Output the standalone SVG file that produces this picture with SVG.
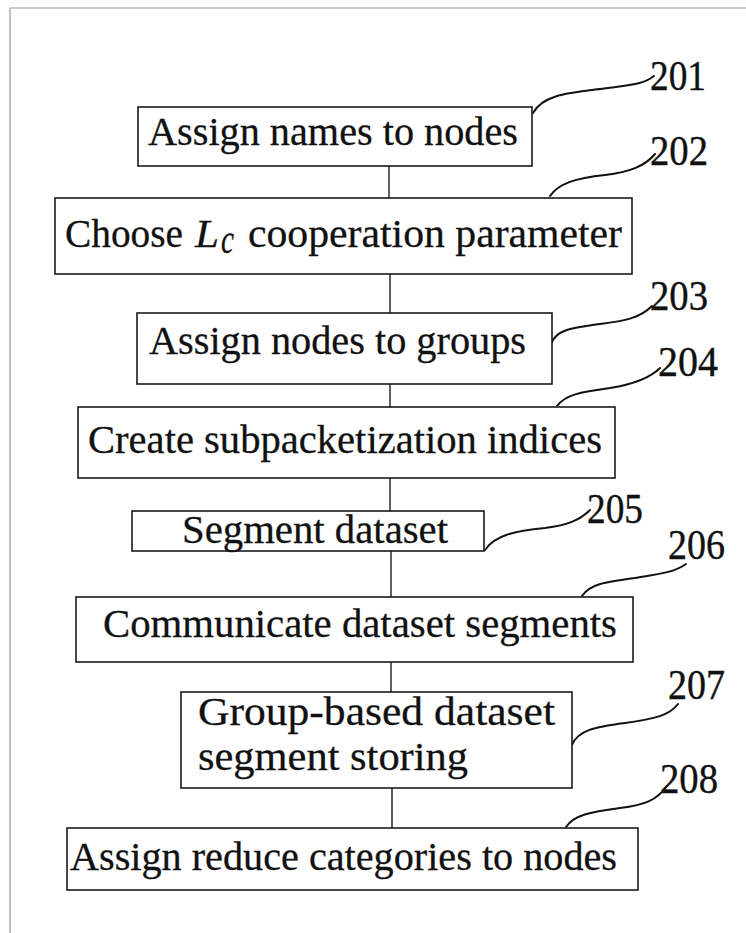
<svg xmlns="http://www.w3.org/2000/svg" width="746" height="933" viewBox="0 0 746 933">
  <style>
    .box { fill: #fff; stroke: #1a1a1a; stroke-width: 1.6; }
    .lbl { font-family: "Liberation Serif", "Times New Roman", serif; font-size: 41px; fill: #111; stroke: #111; stroke-width: 0.3; }
    .ref { font-family: "Liberation Serif", "Times New Roman", serif; font-size: 43px; fill: #111; stroke: #111; stroke-width: 0.4; }
    .conn { stroke: #1a1a1a; stroke-width: 1.4; fill: none; }
    .lead { stroke: #111; stroke-width: 2; fill: none; stroke-linecap: round; }
    .frame { stroke: #9a9a9a; stroke-width: 1.2; fill: none; }
  </style>
  <rect width="746" height="933" fill="#fff"/>
  <!-- sheet frame -->
  <path class="frame" d="M10,933 V8 H746"/>

  <g id="connectors">
    <line class="conn" x1="389" y1="166" x2="389" y2="198"/>
    <line class="conn" x1="390" y1="274" x2="390" y2="313"/>
    <line class="conn" x1="390" y1="384" x2="390" y2="407"/>
    <line class="conn" x1="390" y1="478" x2="390" y2="511"/>
    <line class="conn" x1="391" y1="551" x2="391" y2="597"/>
    <line class="conn" x1="391" y1="662" x2="391" y2="692"/>
    <line class="conn" x1="392" y1="788" x2="392" y2="828"/>
  </g>

  <g id="leaders">
    <path class="lead" d="M533,113 C543,94 570,93 608,88 C632,85 644,84 654,76"/>
    <path class="lead" d="M550,196 C558,184 575,178 605,175 C630,172 645,166 655,154"/>
    <path class="lead" d="M551,344 C556,330 570,328 600,324 C625,321 640,318 652,306"/>
    <path class="lead" d="M557,406 C565,395 580,392 610,388 C635,384 650,378 660,368"/>
    <path class="lead" d="M485,550 C495,535 515,531 545,528 C568,525 580,520 590,510"/>
    <path class="lead" d="M582,596 C590,584 605,582 635,578 C660,574 675,572 686,564"/>
    <path class="lead" d="M572,745 C578,730 595,727 625,723 C655,719 670,715 678,704"/>
    <path class="lead" d="M566,827 C574,815 590,812 620,808 C645,805 657,800 667,786"/>
  </g>

  <g id="n201">
    <rect class="box" x="138" y="107" width="394" height="59"/>
    <text class="lbl" x="148" y="145" textLength="370" lengthAdjust="spacingAndGlyphs">Assign names to nodes</text>
    <text class="ref" x="650" y="90" textLength="56" lengthAdjust="spacingAndGlyphs">201</text>
  </g>

  <g id="n202">
    <rect class="box" x="55" y="198" width="577" height="76"/>
    <text class="lbl" x="65" y="247" textLength="118" lengthAdjust="spacingAndGlyphs">Choose</text>
    <text class="lbl" x="195" y="247" font-style="italic" textLength="24" lengthAdjust="spacingAndGlyphs">L</text>
    <text class="lbl" x="221" y="253" font-size="27" font-style="italic" textLength="13" lengthAdjust="spacingAndGlyphs">c</text>
    <text class="lbl" x="248" y="247" textLength="374" lengthAdjust="spacingAndGlyphs">cooperation parameter</text>
    <text class="ref" x="650" y="165" textLength="58" lengthAdjust="spacingAndGlyphs">202</text>
  </g>

  <g id="n203">
    <rect class="box" x="137" y="313" width="415" height="71"/>
    <text class="lbl" x="149" y="354" textLength="377" lengthAdjust="spacingAndGlyphs">Assign nodes to groups</text>
    <text class="ref" x="650" y="310" textLength="58" lengthAdjust="spacingAndGlyphs">203</text>
  </g>

  <g id="n204">
    <rect class="box" x="78" y="407" width="537" height="71"/>
    <text class="lbl" x="88" y="453" textLength="514" lengthAdjust="spacingAndGlyphs">Create subpacketization indices</text>
    <text class="ref" x="658" y="376" textLength="60" lengthAdjust="spacingAndGlyphs">204</text>
  </g>

  <g id="n205">
    <rect class="box" x="132" y="511" width="352" height="40"/>
    <text class="lbl" x="182" y="543" textLength="266" lengthAdjust="spacingAndGlyphs">Segment dataset</text>
    <text class="ref" x="587" y="523" textLength="56" lengthAdjust="spacingAndGlyphs">205</text>
  </g>

  <g id="n206">
    <rect class="box" x="76" y="597" width="557" height="65"/>
    <text class="lbl" x="103" y="637" textLength="514" lengthAdjust="spacingAndGlyphs">Communicate dataset segments</text>
    <text class="ref" x="668" y="559" textLength="57" lengthAdjust="spacingAndGlyphs">206</text>
  </g>

  <g id="n207">
    <rect class="box" x="181" y="692" width="391" height="96"/>
    <text class="lbl" x="198" y="725" textLength="357" lengthAdjust="spacingAndGlyphs">Group-based dataset</text>
    <text class="lbl" x="198" y="770" textLength="270" lengthAdjust="spacingAndGlyphs">segment storing</text>
    <text class="ref" x="668" y="699" textLength="57" lengthAdjust="spacingAndGlyphs">207</text>
  </g>

  <g id="n208">
    <rect class="box" x="67" y="828" width="571" height="62"/>
    <text class="lbl" x="70" y="870" textLength="547" lengthAdjust="spacingAndGlyphs">Assign reduce categories to nodes</text>
    <text class="ref" x="660" y="793" textLength="58" lengthAdjust="spacingAndGlyphs">208</text>
  </g>
</svg>
